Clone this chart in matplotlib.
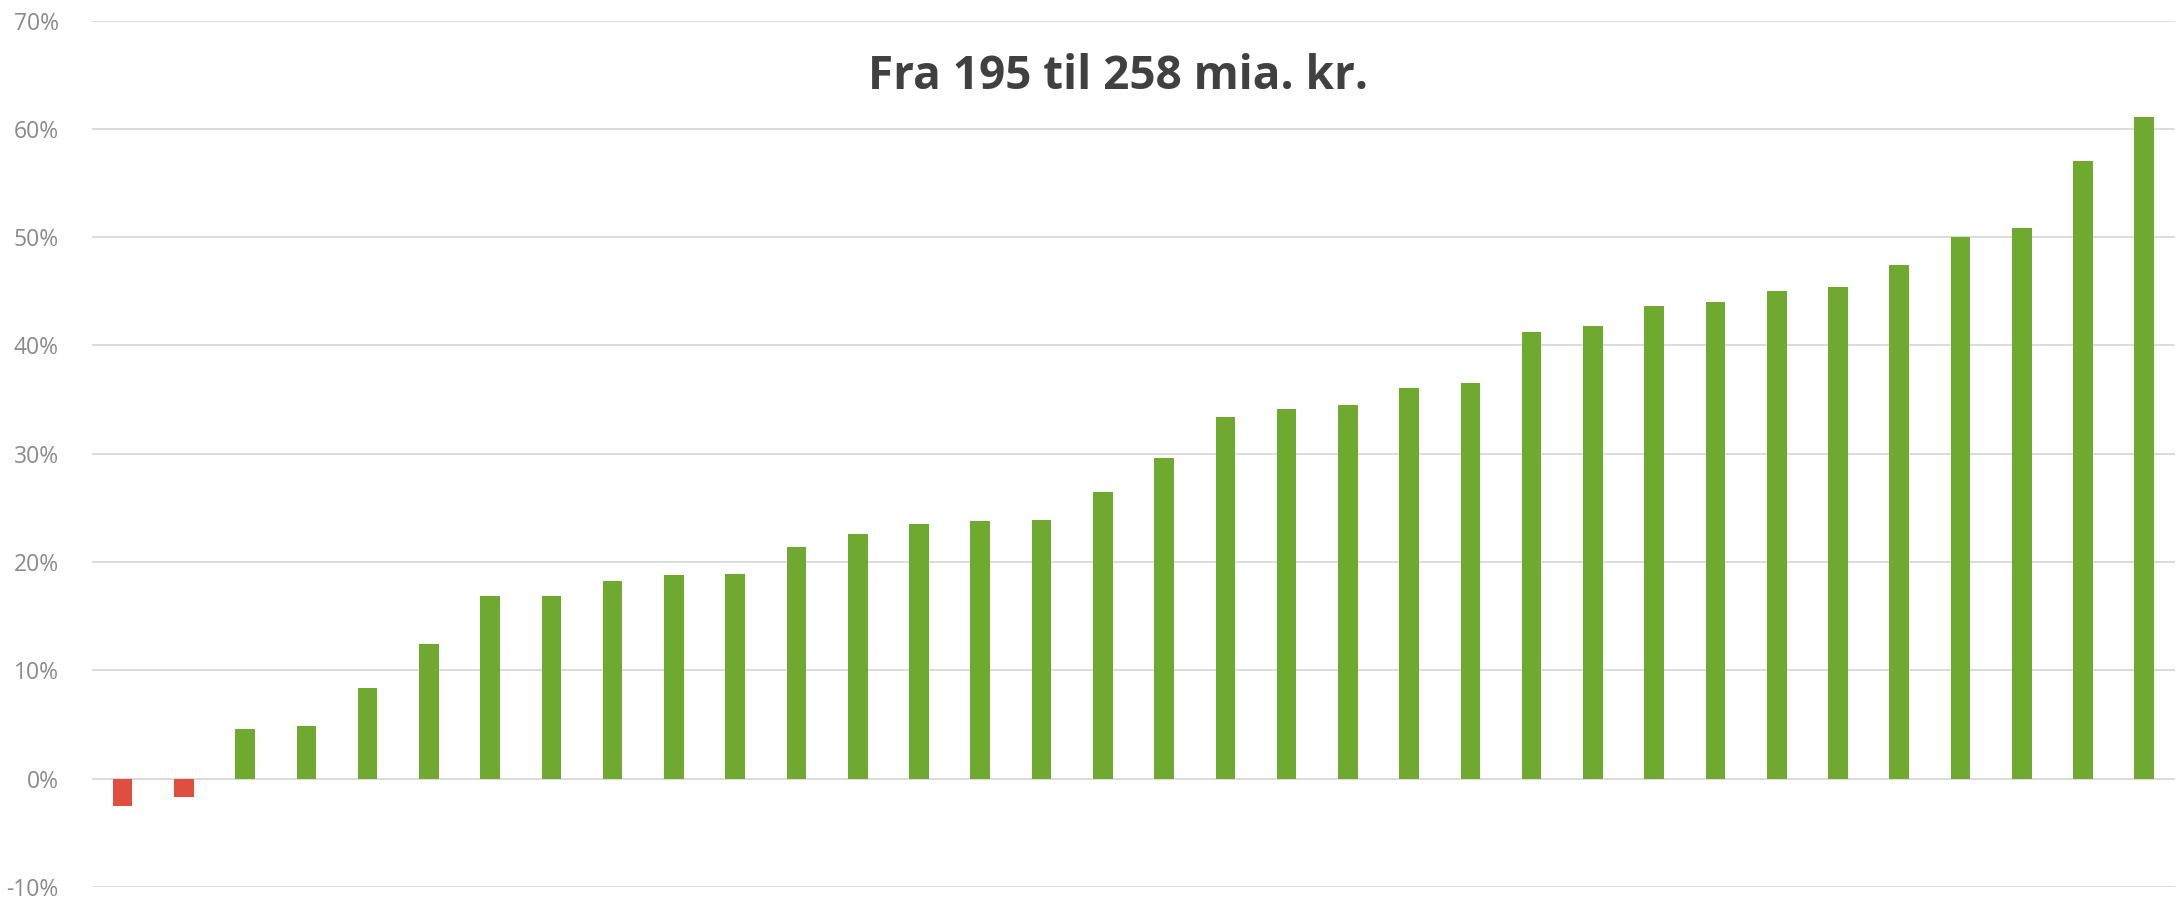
import matplotlib
matplotlib.use('Agg')
import matplotlib.pyplot as plt  # Plotting
import matplotlib.transforms as mtransforms
import numpy as np  # Arrays
from matplotlib.ticker import FuncFormatter

# Values (percent)
values = [-2.5, -1.7, 4.6, 4.9, 8.4, 12.4, 16.9, 16.9, 18.3, 18.8, 18.9,
          21.4, 22.6, 23.5, 23.8, 23.9, 26.5, 29.6, 33.4, 34.1, 34.5, 36.1,
          36.5, 41.2, 41.8, 43.6, 44.0, 45.0, 45.4, 47.4, 50.0, 50.8, 57.0, 61.1]
y_ticks = [-10, 0, 10, 20, 30, 40, 50, 60, 70]
title = 'Fra 195 til 258 mia. kr.'

green = '#6FA92F'
red = '#DF4E3E'

plt.rcParams['font.family'] = ['Open Sans', 'DejaVu Sans']

fig = plt.figure(figsize=(21.83, 9), dpi=100)
ax = fig.add_axes([0.0421, 0.0144, 0.9542, 0.9628])

x = np.arange(len(values))
colors = [red if v < 0 else green for v in values]
ax.bar(x, values, width=0.32, color=colors, zorder=3)

ax.set_xlim(-0.5, len(values) - 0.5)
ax.set_ylim(-10, 70)
ax.set_yticks(y_ticks)
ax.yaxis.set_major_formatter(FuncFormatter(lambda v, p: '{:.0f}%'.format(v)))
ax.set_xticks([])
ax.tick_params(axis='y', length=0, pad=24, labelsize=16.5, labelcolor='#8a8a8a')
ax.grid(axis='y', color='#d9d9d9', linewidth=1.3, zorder=0)
for s in ax.spines.values():
    s.set_visible(False)

# Title sits inside the plot area, between the 60% and 70% lines
trans = mtransforms.blended_transform_factory(ax.transAxes, ax.transData)
ax.text(0.4926, 64.8, title, transform=trans, ha='center', va='center',
        fontsize=33, fontweight='bold', color='#404040')

fig.savefig('out.png', dpi=100)
